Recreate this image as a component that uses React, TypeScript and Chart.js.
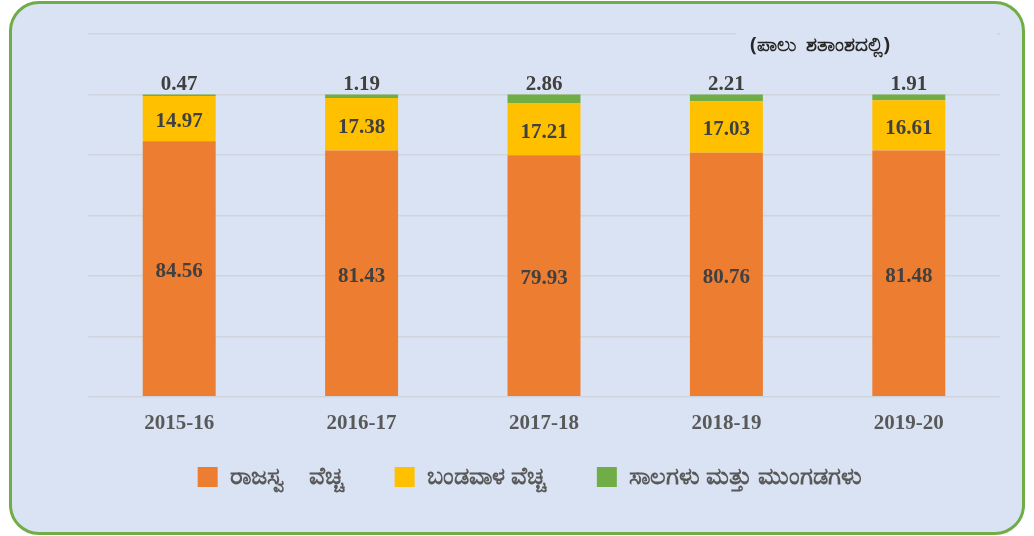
import React, { useEffect, useRef } from "react";
import { Chart, registerables } from "chart.js";

Chart.register(...registerables);

const categories = ["2015-16", "2016-17", "2017-18", "2018-19", "2019-20"];
const revenueExp = [84.56, 81.43, 79.93, 80.76, 81.48];
const capitalExp = [14.97, 17.38, 17.21, 17.03, 16.61];
const loansAdv = [0.47, 1.19, 2.86, 2.21, 1.91];
const seriesNames = ["ರಾಜಸ್ವ    ವೆಚ್ಚ", "ಬಂಡವಾಳ ವೆಚ್ಚ", "ಸಾಲಗಳು ಮತ್ತು ಮುಂಗಡಗಳು"];
const unitNote = "(ಪಾಲು  ಶತಾಂಶದಲ್ಲಿ)";

const BG = "#dae3f3";
const LABEL_FONT = "bold 21px 'Liberation Serif', 'Times New Roman', serif";

const labelPlugin = {
  id: "valueLabels",
  afterDatasetsDraw(chart: any) {
    const ctx = chart.ctx;
    ctx.save();
    ctx.font = LABEL_FONT;
    ctx.fillStyle = "#404040";
    ctx.textAlign = "center";
    ctx.textBaseline = "middle";
    chart.data.datasets.forEach((ds: any, di: number) => {
      const meta = chart.getDatasetMeta(di);
      meta.data.forEach((el: any, i: number) => {
        const v = ds.data[i];
        const txt = v.toFixed(2);
        if (di < 2) {
          ctx.fillText(txt, el.x, (el.y + el.base) / 2 + 3);
        } else {
          ctx.fillText(txt, el.x, el.y - 10);
        }
      });
    });
    ctx.restore();
  },
};

const notePlugin = {
  id: "unitNote",
  beforeDatasetsDraw(chart: any) {
    const ctx = chart.ctx;
    const y = chart.scales.y.getPixelForValue(120);
    ctx.save();
    ctx.fillStyle = BG;
    ctx.fillRect(736, y - 3, 261, 6);
    ctx.font = "bold 20px 'Noto Sans', 'DejaVu Sans', sans-serif";
    ctx.fillStyle = "#262626";
    ctx.textAlign = "center";
    ctx.textBaseline = "middle";
    ctx.fillText(unitNote, 820, 45);
    ctx.restore();
  },
};

const legendShift = {
  id: "legendShift",
  afterLayout(chart: any) {
    const lg = chart.legend;
    if (lg) {
      lg.left -= 14;
      lg.right -= 14;
      lg.top -= 37;
      lg.bottom = chart.height;
      lg.height = lg.bottom - lg.top;
    }
  },
};

export default function App() {
  const ref = useRef<HTMLCanvasElement | null>(null);
  useEffect(() => {
    if (!ref.current) return;
    const chart = new Chart(ref.current, {
      type: "bar",
      data: {
        labels: categories,
        datasets: [
          { label: seriesNames[0], data: revenueExp, backgroundColor: "#ed7d31" },
          { label: seriesNames[1], data: capitalExp, backgroundColor: "#ffc000" },
          { label: seriesNames[2], data: loansAdv, backgroundColor: "#70ad47" },
        ],
      },
      options: {
        animation: false,
        responsive: false,
        maintainAspectRatio: false,
        datasets: { bar: { categoryPercentage: 1, barPercentage: 0.4 } },
        layout: { padding: { left: 88, right: 34, top: 34, bottom: 16 } },
        plugins: {
          tooltip: { enabled: false },
          legend: {
            position: "bottom",
            maxHeight: 70,
            labels: {
              boxWidth: 20,
              boxHeight: 20,
              padding: 52,
              color: "#595959",
              font: { family: "'Noto Sans', 'DejaVu Sans', sans-serif", size: 24, weight: "bold" },
            },
          },
        },
        scales: {
          x: {
            stacked: true,
            grid: { display: false, drawTicks: false },
            border: { display: false },
            ticks: {
              color: "#595959",
              padding: 14,
              font: { family: "'Liberation Serif', 'Times New Roman', serif", size: 21, weight: "bold" },
            },
          },
          y: {
            stacked: true,
            min: 0,
            max: 120,
            display: true,
            border: { display: false },
            grid: { color: "#d0d4dc", lineWidth: 1.5, drawTicks: false },
            ticks: { display: false, stepSize: 20 },
          },
        },
      },
      plugins: [notePlugin, labelPlugin, legendShift],
    });
    return () => chart.destroy();
  }, []);

  return (
    <div style={{ position: "fixed", left: 0, top: 0, width: 1034, height: 536, background: "#ffffff" }}>
      <div
        style={{
          position: "absolute",
          left: 9,
          top: 1,
          width: 1010,
          height: 528,
          background: BG,
          border: "3px solid #70ad47",
          borderRadius: 30,
        }}
      />
      <canvas ref={ref} width={1034} height={536} style={{ position: "absolute", left: 0, top: 0 }} />
    </div>
  );
}
